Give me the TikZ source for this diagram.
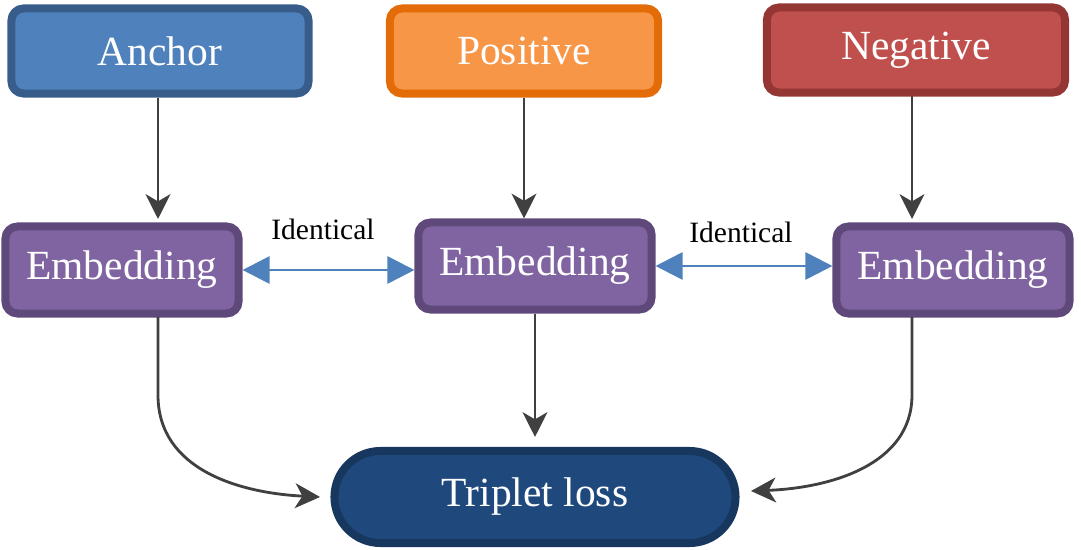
\documentclass[tikz,border=0pt]{standalone}
\usepackage{fontspec}
\setmainfont{Liberation Serif}
\usetikzlibrary{arrows.meta}
\definecolor{anchorfill}{HTML}{4F81BD}
\definecolor{anchorline}{HTML}{385D8A}
\definecolor{posfill}{HTML}{F79646}
\definecolor{posline}{HTML}{E36C09}
\definecolor{negfill}{HTML}{C0504D}
\definecolor{negline}{HTML}{943634}
\definecolor{embfill}{HTML}{8064A2}
\definecolor{embline}{HTML}{5F497A}
\definecolor{lossfill}{HTML}{1F497D}
\definecolor{lossline}{HTML}{17375E}
\definecolor{flowgray}{HTML}{404040}
\begin{document}
\begin{tikzpicture}[x=0.025cm,y=-0.025cm,
    box/.style={rounded corners=0.3cm,line width=0.2cm,minimum height=2.125cm,
      text=white,font=\fontsize{29.5}{34}\selectfont},
    embbox/.style={box,draw=embline,fill=embfill,minimum width=5.825cm,minimum height=2.175cm},
    flow/.style={draw=flowgray,line width=2pt,-{Stealth[length=0.62cm,width=0.62cm,inset=0.18cm]}},
    same/.style={draw=anchorfill,line width=2pt,{Triangle[length=0.68cm,width=0.68cm]}-{Triangle[length=0.68cm,width=0.68cm]}},
    note/.style={font=\fontsize{21}{25}\selectfont}]
  \useasboundingbox (0,0) rectangle (1081,550);
  \node[box,draw=anchorline,fill=anchorfill,minimum width=7.425cm] (anchor) at (160,51) {Anchor};
  \node[box,draw=posline,fill=posfill,minimum width=6.7cm] (pos) at (524,51) {Positive};
  \node[box,draw=negline,fill=negfill,minimum width=7.45cm] (neg) at (916,50) {Negative};
  \node[embbox] (emb1) at (122,270) {Embedding};
  \node[embbox] (emb2) at (535,266) {Embedding};
  \node[embbox] (emb3) at (953,270) {Embedding};
  \node[box,draw=lossline,fill=lossfill,minimum width=10.025cm,minimum height=2.3cm,
    rounded corners=1.15cm] (loss) at (535,497) {Triplet loss};
  \node[note] (same1) at (323,229) {Identical};
  \node[note] (same2) at (741,232) {Identical};
  \coordinate (c1) at (158,317);
  \coordinate (c3) at (912,317);
  \draw[flow] (158,98) -- (158,219);
  \draw[flow] (pos.south) -- (pos.south |- emb2.north);
  \draw[flow] (912,96) -- (912,219);
  \draw[flow,shorten >=0.25cm] (emb2.south) -- (loss.north);
  \draw[flow] (c1) -- (158,395) .. controls (158,470) and (240,493) .. (320,497);
  \draw[flow] (c3) -- (912,395) .. controls (912,465) and (830,488) .. (751,491);
  \draw[same] (emb1.east) -- (emb1.east -| emb2.west);
  \draw[same] (emb2.east) -- (emb2.east -| emb3.west);
\end{tikzpicture}
\end{document}
